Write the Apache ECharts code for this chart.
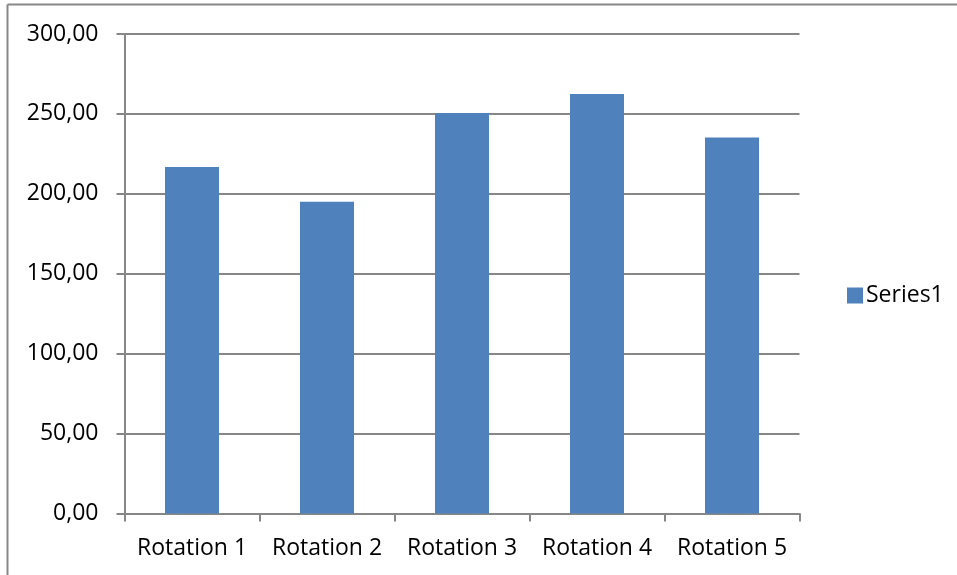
<!DOCTYPE html>
<html>
<head>
<meta charset="utf-8">
<style>
  html, body { margin: 0; padding: 0; background: #fff; }
  #chart { width: 957px; height: 575px; }
</style>
<script src="https://cdn.jsdelivr.net/npm/echarts@6/dist/echarts.min.js"></script>
</head>
<body>
<div id="chart"></div>
<script>
// Categories and values for the single series
const categories = ['Rotation 1', 'Rotation 2', 'Rotation 3', 'Rotation 4', 'Rotation 5'];
const series1 = [216.8, 195.1, 250.5, 262.4, 235.2];
const seriesName = 'Series1';

const FONT = '"Open Sans", "Noto Sans", sans-serif';
const GRID_GRAY = '#878787';

const chart = echarts.init(document.getElementById('chart'), null, { renderer: 'canvas' });

chart.setOption({
  animation: false,
  backgroundColor: '#ffffff',
  textStyle: { fontFamily: FONT },
  graphic: [
    // outer frame: top and left edges
    { type: 'line', shape: { x1: 7.5, y1: 4.5, x2: 957, y2: 4.5 }, style: { stroke: GRID_GRAY, lineWidth: 2 } },
    { type: 'line', shape: { x1: 7.5, y1: 4.5, x2: 7.5, y2: 575 }, style: { stroke: GRID_GRAY, lineWidth: 2 } }
  ],
  grid: { left: 124.5, right: 157.5, top: 34, bottom: 61.5, containLabel: false },
  legend: {
    orient: 'vertical',
    left: 842,
    top: 279,
    itemWidth: 16,
    itemHeight: 16,
    itemGap: 10,
    icon: 'rect',
    textStyle: { fontSize: 23, color: '#000', fontFamily: FONT, padding: [0, 0, 0, -2] },
    data: [seriesName]
  },
  xAxis: {
    type: 'category',
    data: categories,
    boundaryGap: true,
    axisLine: { show: true, lineStyle: { color: GRID_GRAY, width: 2 } },
    axisTick: { show: true, length: 8, alignWithLabel: false, lineStyle: { color: GRID_GRAY, width: 2 } },
    axisLabel: { color: '#000', fontSize: 23, fontFamily: FONT, margin: 23, interval: 0, hideOverlap: false },
    splitLine: { show: false }
  },
  yAxis: {
    type: 'value',
    min: 0,
    max: 300,
    interval: 50,
    axisLine: { show: true, lineStyle: { color: GRID_GRAY, width: 2 } },
    axisTick: { show: true, length: 8, inside: false, lineStyle: { color: GRID_GRAY, width: 2 } },
    axisLabel: {
      color: '#000',
      fontSize: 23,
      fontFamily: FONT,
      margin: 26,
      formatter: v => v.toFixed(2).replace('.', ',')
    },
    splitLine: { show: true, lineStyle: { color: GRID_GRAY, width: 2 } }
  },
  series: [{
    name: seriesName,
    type: 'bar',
    data: series1,
    barCategoryGap: '60%',
    itemStyle: { color: '#4F81BD' }
  }]
});
</script>
</body>
</html>
